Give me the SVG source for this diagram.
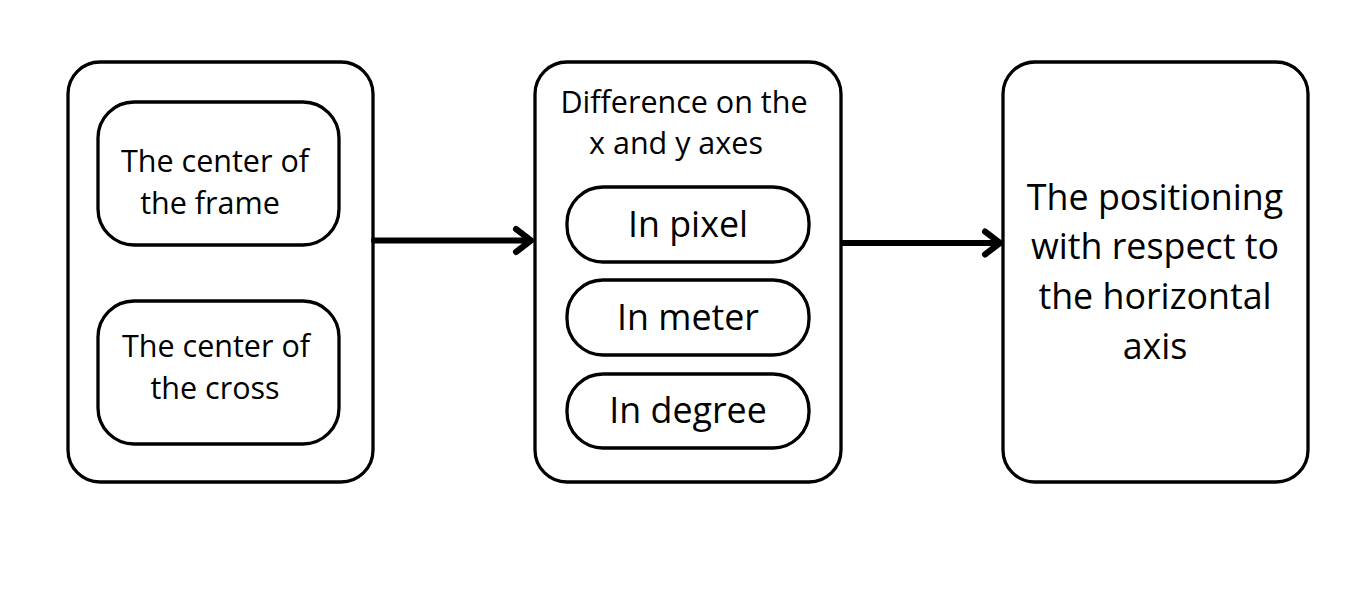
<svg xmlns="http://www.w3.org/2000/svg" width="1367" height="604" viewBox="0 0 1367 604">
<style>
.box{fill:#fff;stroke:#000;stroke-width:3.3}
.t{font-family:"Open Sans","Noto Sans",sans-serif;fill:#000;text-anchor:middle}
.s{font-size:30.5px}
.l{font-size:35.8px}
.conn{fill:none;stroke:#000;stroke-width:6;stroke-linecap:round;stroke-linejoin:round}
</style>
<rect width="1367" height="604" fill="#fff"/>
<g id="node-left">
<rect class="box" x="68" y="62" width="305" height="420" rx="32"/>
</g>
<g id="node-frame">
<rect class="box" x="98" y="102" width="241" height="143" rx="36"/>
<text class="t s" x="215" y="172">The center of</text>
<text class="t s" x="210" y="214">the frame</text>
</g>
<g id="node-cross">
<rect class="box" x="98" y="301" width="241" height="143" rx="36"/>
<text class="t s" x="216" y="357">The center of</text>
<text class="t s" x="215" y="399">the cross</text>
</g>
<g id="node-middle">
<rect class="box" x="535" y="62" width="306" height="420" rx="32"/>
<text class="t s" x="684" y="113">Difference on the</text>
<text class="t s" x="676" y="154">x and y axes</text>
</g>
<g id="node-pixel">
<rect class="box" x="567" y="187" width="242" height="75" rx="36"/>
<text class="t l" x="688" y="237">In pixel</text>
</g>
<g id="node-meter">
<rect class="box" x="567" y="280" width="242" height="75" rx="36"/>
<text class="t l" x="688" y="330">In meter</text>
</g>
<g id="node-degree">
<rect class="box" x="567" y="374" width="242" height="74" rx="36"/>
<text class="t l" x="688" y="423">In degree</text>
</g>
<g id="node-right">
<rect class="box" x="1003" y="62" width="305" height="420" rx="32"/>
<text class="t l" x="1155" y="210">The positioning</text>
<text class="t l" x="1155" y="259">with respect to</text>
<text class="t l" x="1155" y="309">the horizontal</text>
<text class="t l" x="1155" y="359">axis</text>
</g>
<g id="connectors">
<path class="conn" d="M374 240.5 H531 M516 229 L531 240.5 L516 252"/>
<path class="conn" d="M843 243 H1000 M985 231.5 L1000 243 L985 254.5"/>
</g>
</svg>
